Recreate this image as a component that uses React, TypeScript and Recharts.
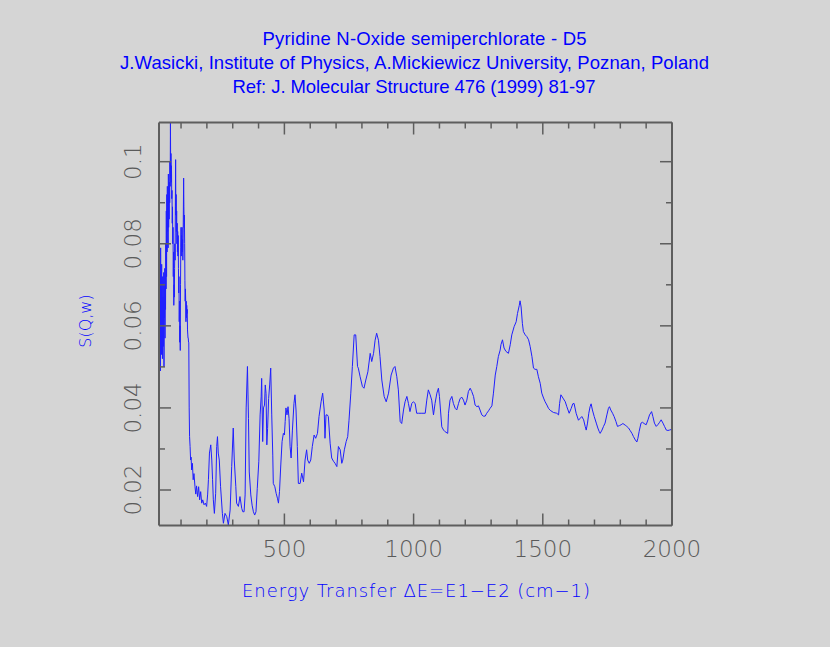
import React from 'react';
import { LineChart, Line, XAxis, YAxis, CartesianGrid } from 'recharts';

// ---- data ----
const energy = [
  14.7, 16, 17, 18, 19, 20, 21, 22, 23, 24, 25, 26, 27, 28, 29, 30, 31, 32, 33, 34, 35, 36, 37, 38, 39, 40,
  41, 42, 43, 44, 45, 46, 47, 48, 49, 50, 51, 52, 53, 54, 55, 56, 57, 58, 59, 60, 61, 62, 63, 64, 65, 66, 67,
  68, 69, 70, 71, 72, 73, 74, 75, 76, 77, 78, 79, 80, 81, 82, 83, 84, 85, 86, 87, 88, 89, 90, 91, 92, 93, 94,
  95, 96, 97, 98, 99, 100, 101, 102, 103, 104, 105, 106, 107, 108, 109, 110, 111, 112, 113, 114, 115, 116,
  117, 118, 119, 120, 121, 122, 123, 124, 125, 126, 127, 128, 129, 130, 131.5, 133, 135, 137, 139, 141, 144,
  147, 150, 154, 157, 160, 164, 168, 172, 176, 180, 184, 189, 194, 199, 203, 206, 210, 215, 219, 222, 225,
  229, 234, 238, 241, 244, 248, 253, 260, 264, 270, 277, 283, 290, 296, 302, 306, 312, 315, 322, 328, 335,
  339, 344, 348, 352, 357, 361, 364, 370, 375, 380, 385, 390, 395, 401, 406, 410, 412, 416, 419, 423, 426,
  429, 432, 435, 439, 443, 447, 451, 455, 457, 463, 468, 473, 477, 481, 486, 491, 496, 500, 503, 506, 510,
  514, 518, 522, 526, 531, 537, 541, 545, 550, 554, 561, 567, 574, 580, 586, 590, 596, 602, 608, 615, 621,
  628, 634, 642, 648, 654, 657, 661, 666, 670, 677, 683, 690, 696, 703, 709, 716, 722, 726, 732, 739, 745,
  750, 757, 763, 770, 776, 783, 786, 793, 802, 808, 815, 823, 832, 838, 845, 851, 857, 864, 870, 877, 886,
  894, 903, 913, 922, 928, 935, 941, 948, 954, 961, 967, 974, 980, 986, 993, 999, 1006, 1012, 1019, 1032,
  1045, 1051, 1057, 1064, 1070, 1077, 1083, 1090, 1096, 1100, 1109, 1116, 1122, 1132, 1135, 1141, 1148,
  1154, 1161, 1167, 1174, 1180, 1187, 1193, 1199, 1206, 1212, 1219, 1225, 1232, 1238, 1245, 1251, 1257,
  1264, 1270, 1277, 1283, 1290, 1296, 1303, 1309, 1316, 1322, 1328, 1335, 1338, 1344, 1350, 1357, 1367,
  1374, 1380, 1389, 1397, 1402, 1409, 1412, 1416, 1421, 1425, 1432, 1438, 1445, 1451, 1458, 1464, 1470,
  1477, 1483, 1490, 1496, 1503, 1509, 1516, 1522, 1529, 1541, 1554, 1561, 1565, 1570, 1578, 1587, 1593,
  1602, 1610, 1616, 1621, 1629, 1638, 1645, 1651, 1658, 1664, 1668, 1673, 1678, 1683, 1687, 1692, 1699,
  1707, 1713, 1718, 1722, 1729, 1735, 1741, 1748, 1754, 1758, 1763, 1770, 1776, 1783, 1789, 1797, 1803,
  1810, 1819, 1825, 1832, 1838, 1845, 1851, 1858, 1864, 1868, 1873, 1880, 1886, 1892, 1900, 1907, 1913,
  1921, 1926, 1932, 1939, 1945, 1952, 1958, 1965, 1971, 1978, 1984, 1990, 2000,
];

const sqw = [
  0.080, 0.048, 0.071, 0.052, 0.066, 0.049, 0.079, 0.055, 0.069, 0.053, 0.075, 0.058, 0.067, 0.052, 0.072,
  0.060, 0.066, 0.055, 0.073, 0.050, 0.067, 0.062, 0.074, 0.057, 0.070, 0.064,
  0.080, 0.069, 0.088, 0.072, 0.092, 0.078, 0.094, 0.083, 0.090, 0.079, 0.097, 0.084, 0.091, 0.086, 0.095,
  0.090, 0.100, 0.094, 0.1095, 0.096, 0.102, 0.095, 0.099, 0.091, 0.093, 0.085, 0.089,
  0.080, 0.084, 0.072, 0.078, 0.065, 0.070, 0.067, 0.074, 0.080, 0.076, 0.089, 0.1005, 0.087, 0.092, 0.083,
  0.088, 0.080, 0.085, 0.078, 0.083, 0.077, 0.082, 0.074, 0.068, 0.072, 0.061, 0.066,
  0.056, 0.060, 0.054, 0.070, 0.079, 0.084, 0.077, 0.082, 0.079, 0.084, 0.078, 0.081, 0.076, 0.080, 0.088,
  0.096, 0.089, 0.084, 0.087, 0.080, 0.071, 0.066,
  0.069, 0.066, 0.061, 0.066, 0.062, 0.065, 0.063, 0.064, 0.059, 0.058, 0.057, 0.057, 0.056, 0.056, 0.040,
  0.033, 0.0306, 0.0273, 0.028, 0.0249, 0.0265,
  0.0225, 0.024, 0.0208, 0.019, 0.021, 0.0184, 0.0208, 0.0176, 0.0196, 0.0168, 0.0176, 0.0164, 0.0168,
  0.016, 0.019, 0.0225, 0.029, 0.031, 0.0273, 0.0225, 0.0176,
  0.0143, 0.0192, 0.0306, 0.033, 0.029, 0.0273, 0.0208, 0.0143, 0.0119, 0.0143, 0.0135, 0.0115, 0.0151,
  0.0257, 0.0351, 0.0273, 0.0208, 0.0168, 0.016, 0.0184, 0.0155,
  0.0147, 0.0147, 0.0188, 0.040, 0.0501, 0.0374, 0.0244, 0.0188, 0.0163, 0.0147, 0.0139, 0.0147, 0.0204,
  0.027, 0.0383, 0.0427, 0.0472, 0.0318, 0.040, 0.0407, 0.0456,
  0.0435, 0.031, 0.035, 0.0423, 0.0456, 0.0497, 0.0383, 0.0285, 0.0216, 0.0208, 0.0192, 0.018, 0.0168,
  0.0196, 0.0261, 0.0318, 0.0338, 0.0334, 0.0367, 0.040, 0.0383,
  0.0403, 0.0374, 0.0306, 0.0278, 0.0346, 0.0411, 0.0432, 0.0395, 0.0306, 0.0216, 0.0216, 0.0241, 0.022,
  0.0273, 0.0298, 0.0273, 0.0265, 0.0273, 0.0306, 0.0334, 0.0326,
  0.0338, 0.0379, 0.0415, 0.0436, 0.0395, 0.0326, 0.0383, 0.0383, 0.0379, 0.0314, 0.0278, 0.027, 0.0265,
  0.0257, 0.0306, 0.0298, 0.0265, 0.0273, 0.0298, 0.0318, 0.033,
  0.037, 0.0436, 0.0501, 0.0578, 0.0578, 0.0501, 0.0497, 0.0476, 0.0452, 0.0448, 0.0468, 0.0488, 0.0533,
  0.0513, 0.0533, 0.0565, 0.0582, 0.0565, 0.0525, 0.0468, 0.0428,
  0.0415, 0.0436, 0.048, 0.0497, 0.0501, 0.0476, 0.0444, 0.0367, 0.0362, 0.0395, 0.0415, 0.0428, 0.0411,
  0.0391, 0.0411, 0.0415, 0.0411, 0.0387, 0.0387, 0.0387,
  0.0387, 0.0419, 0.0444, 0.0432, 0.0419, 0.0383, 0.0411, 0.0436, 0.0448, 0.0428, 0.0354, 0.0346, 0.0342,
  0.0338, 0.0387, 0.0419, 0.0428,
  0.0411, 0.0399, 0.0395, 0.0411, 0.0423, 0.0426, 0.0419, 0.0407, 0.0419, 0.044, 0.0448, 0.044, 0.0428,
  0.0407, 0.0403, 0.0405, 0.0395,
  0.0383, 0.038, 0.038, 0.0387, 0.0393, 0.0399, 0.0405, 0.0436, 0.048, 0.0501, 0.0525, 0.0541, 0.0554,
  0.0566, 0.0546, 0.0538, 0.0533,
  0.0554, 0.0578, 0.0598, 0.061, 0.063, 0.065, 0.0661, 0.0646, 0.0606, 0.0586, 0.0578, 0.0574, 0.0566,
  0.055, 0.0525, 0.0497, 0.0494,
  0.0494, 0.0476, 0.046, 0.0436, 0.0424, 0.0415, 0.0407, 0.0399, 0.0394, 0.0389, 0.0387, 0.0383, 0.0411,
  0.0432, 0.0424, 0.0415, 0.0403,
  0.0387, 0.0399, 0.041, 0.0411, 0.0387, 0.037, 0.0375, 0.0379, 0.0371, 0.0355, 0.0346, 0.0363, 0.0387,
  0.0403, 0.041, 0.0395, 0.0379,
  0.0363, 0.0351, 0.0343, 0.0338, 0.0346, 0.0355, 0.0363, 0.0383, 0.0399, 0.0403, 0.0395, 0.0387, 0.0379,
  0.0367, 0.0355, 0.0357, 0.0359,
  0.0362, 0.0358, 0.0355, 0.0351, 0.0345, 0.0338, 0.033, 0.0322, 0.0317, 0.0326, 0.0343, 0.0363, 0.0365,
  0.0362, 0.0359, 0.0371, 0.0383,
  0.0391, 0.0379, 0.0363, 0.0355, 0.0359, 0.0365, 0.0371, 0.0363, 0.0355, 0.0346, 0.0345, 0.0346, 0.0348,
];

const xTicks = [100, 200, 300, 400, 500, 600, 700, 800, 900, 1000, 1100, 1200, 1300, 1400, 1500, 1600, 1700, 1800, 1900, 2000];
const xLabelled = [500, 1000, 1500, 2000];
const yTicks = [0.02, 0.03, 0.04, 0.05, 0.06, 0.07, 0.08, 0.09, 0.1];
const yLabelled = [0.02, 0.04, 0.06, 0.08, 0.1];

const titleLines = [
  'Pyridine N-Oxide semiperchlorate - D5',
  'J.Wasicki, Institute of Physics, A.Mickiewicz University, Poznan, Poland',
  'Ref: J. Molecular Structure 476 (1999) 81-97',
];
const xTitle = 'Energy Transfer \u0394E=E1\u2212E2 (cm\u22121)';
const yTitle = 'S(Q,w)';

const X_DOMAIN: [number, number] = [14.7, 2000];
const Y_DOMAIN: [number, number] = [0.01135, 0.10955];

// ---- layout ----
const W = 830;
const H = 647;
const PLOT_LEFT = 159;
const PLOT_RIGHT = 672;
const PLOT_TOP = 122.5;
const PLOT_BOTTOM = 525.5;
const AX_LEFT_W = 40;
const AX_RIGHT_W = 10;
const AX_BOTTOM_H = 30;
const AX_TOP_H = 10;
const BG = '#d5d5d5';
const PLOT_BG = '#cfcfcf';
const FRAME = '#5e5e5e';
const TICK_FONT = '"DejaVu Sans", sans-serif';
const TITLE_FONT = '"Liberation Sans", Arial, sans-serif';
const MAJOR = 12;
const MINOR = 6;

const data = energy.map((e, i) => ({ e, s: sqw[i] }));

const XTick = (props: any) => {
  const { x, payload } = props;
  const v = payload.value;
  const major = v % 500 === 0;
  const len = major ? MAJOR : MINOR;
  return (
    <g>
      <line x1={x} x2={x} y1={PLOT_BOTTOM} y2={PLOT_BOTTOM - len} stroke={FRAME} strokeWidth={1.5} />
      <line x1={x} x2={x} y1={PLOT_TOP} y2={PLOT_TOP + len} stroke={FRAME} strokeWidth={1.5} />
      {xLabelled.includes(v) && (
        <text x={x} y={557} textAnchor="middle" fontFamily={TICK_FONT} fontWeight={200} fontSize={23} fill="#5a5a5a">
          {String(v)}
        </text>
      )}
    </g>
  );
};

const YTick = (props: any) => {
  const { y, payload } = props;
  const v = payload.value;
  const major = yLabelled.some((m) => Math.abs(m - v) < 1e-9);
  const len = major ? MAJOR : MINOR;
  const bx = 141.5;
  return (
    <g>
      <line x1={PLOT_LEFT} x2={PLOT_LEFT + len} y1={y} y2={y} stroke={FRAME} strokeWidth={1.5} />
      <line x1={PLOT_RIGHT} x2={PLOT_RIGHT - len} y1={y} y2={y} stroke={FRAME} strokeWidth={1.5} />
      {major && (
        <text
          x={bx}
          y={y}
          transform={`rotate(-90, ${bx}, ${y})`}
          textAnchor="middle"
          fontFamily={TICK_FONT}
          fontWeight={200}
          fontSize={23}
          fill="#5a5a5a"
        >
          {String(v)}
        </text>
      )}
    </g>
  );
};

export default function App() {
  return (
    <div style={{ position: 'absolute', left: 0, top: 0, width: W, height: H, background: BG, overflow: 'hidden' }}>
      <LineChart
        width={W}
        height={H}
        data={data}
        margin={{
          top: PLOT_TOP - AX_TOP_H,
          right: W - PLOT_RIGHT - AX_RIGHT_W,
          bottom: H - PLOT_BOTTOM - AX_BOTTOM_H,
          left: PLOT_LEFT - AX_LEFT_W,
        }}
      >
        <CartesianGrid horizontal={false} vertical={false} fill={PLOT_BG} />
        <XAxis
          xAxisId="bottom"
          orientation="bottom"
          dataKey="e"
          type="number"
          domain={X_DOMAIN}
          allowDataOverflow
          ticks={xTicks}
          interval={0}
          height={AX_BOTTOM_H}
          tickLine={false}
          axisLine={{ stroke: FRAME, strokeWidth: 2 }}
          tick={(p: any) => <XTick {...p} />}
        />
        <XAxis
          xAxisId="top"
          orientation="top"
          dataKey="e"
          type="number"
          domain={X_DOMAIN}
          allowDataOverflow
          ticks={xTicks}
          height={AX_TOP_H}
          tickLine={false}
          tick={false}
          axisLine={{ stroke: FRAME, strokeWidth: 2 }}
        />
        <YAxis
          yAxisId="left"
          orientation="left"
          type="number"
          domain={Y_DOMAIN}
          allowDataOverflow
          ticks={yTicks}
          interval={0}
          width={AX_LEFT_W}
          tickLine={false}
          axisLine={{ stroke: FRAME, strokeWidth: 2 }}
          tick={(p: any) => <YTick {...p} />}
        />
        <YAxis
          yAxisId="right"
          orientation="right"
          type="number"
          domain={Y_DOMAIN}
          allowDataOverflow
          ticks={yTicks}
          width={AX_RIGHT_W}
          tickLine={false}
          tick={false}
          axisLine={{ stroke: FRAME, strokeWidth: 2 }}
        />
        <Line
          xAxisId="bottom"
          yAxisId="left"
          type="linear"
          dataKey="s"
          stroke="#1f1fff"
          strokeWidth={1}
          dot={false}
          isAnimationActive={false}
        />
      </LineChart>
      <svg width={W} height={H} style={{ position: 'absolute', left: 0, top: 0, pointerEvents: 'none' }}>
        <text x={424.5} y={45} textAnchor="middle" fontFamily={TITLE_FONT} fontSize={18.5} fill="#0000ff" textLength={324} lengthAdjust="spacing">
          {titleLines[0]}
        </text>
        <text x={414.5} y={68.5} textAnchor="middle" fontFamily={TITLE_FONT} fontSize={18.5} fill="#0000ff" textLength={589} lengthAdjust="spacing">
          {titleLines[1]}
        </text>
        <text x={414} y={93} textAnchor="middle" fontFamily={TITLE_FONT} fontSize={18.5} fill="#0000ff" textLength={363} lengthAdjust="spacing">
          {titleLines[2]}
        </text>
        <text x={416} y={597} textAnchor="middle" fontFamily={TICK_FONT} fontWeight={200} fontSize={18} fill="#0000ff" textLength={348} lengthAdjust="spacing">
          {xTitle}
        </text>
        <text
          x={91}
          y={321}
          transform="rotate(-90, 91, 321)"
          textAnchor="middle"
          fontFamily={TICK_FONT}
          fontWeight={200}
          fontSize={16}
          fill="#0000ff"
        >
          {yTitle}
        </text>
      </svg>
    </div>
  );
}
